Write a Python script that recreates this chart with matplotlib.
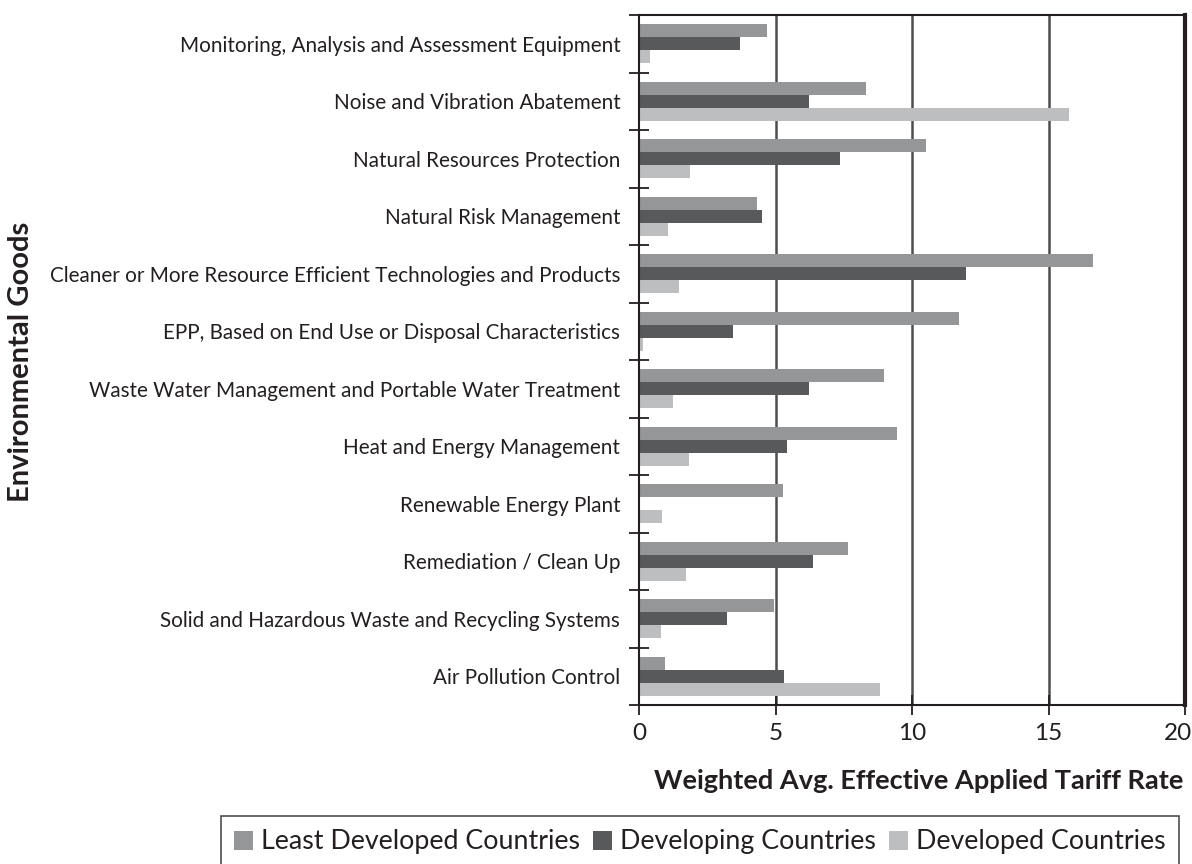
import numpy as np
import matplotlib.pyplot as plt
import matplotlib.transforms as mtransforms
from matplotlib.patches import Patch

categories = [
    "Monitoring, Analysis and Assessment Equipment",
    "Noise and Vibration Abatement",
    "Natural Resources Protection",
    "Natural Risk Management",
    "Cleaner or More Resource Efficient Technologies and Products",
    "EPP, Based on End Use or Disposal Characteristics",
    "Waste Water Management and Portable Water Treatment",
    "Heat and Energy Management",
    "Renewable Energy Plant",
    "Remediation / Clean Up",
    "Solid and Hazardous Waste and Recycling Systems",
    "Air Pollution Control",
]
least_developed = [4.69, 8.32, 10.52, 4.32, 16.63, 11.73, 8.98, 9.45, 5.28, 7.66, 4.95, 0.96]
developing = [3.70, 6.23, 7.37, 4.50, 11.99, 3.44, 6.23, 5.42, 0.0, 6.38, 3.22, 5.32]
developed = [0.41, 15.76, 1.87, 1.06, 1.47, 0.15, 1.24, 1.83, 0.84, 1.73, 0.81, 8.83]

series_names = ["Least Developed Countries", "Developing Countries", "Developed Countries"]
colors = ["#959698", "#58595b", "#bdbec0"]

plt.rcParams['font.family'] = ['Lato', 'DejaVu Sans']

fig = plt.figure(figsize=(11.92, 8.64), dpi=100)
ax = fig.add_axes([639 / 1192, 1 - 705 / 864, (1185 - 639) / 1192, (705 - 15) / 864])

n = len(categories)
y = np.arange(n)  # top category at 0
h = 0.225
for k, vals in enumerate([least_developed, developing, developed]):
    ax.barh(y + (k - 1) * h, vals, height=h, color=colors[k], zorder=2)

ax.set_xlim(0, 20)
ax.set_ylim(n - 0.5, -0.5)
ax.set_xticks([0, 5, 10, 15, 20])
ax.set_yticks(y)
ax.set_yticklabels(categories, fontsize=14.9, color="#231f20")
ax.set_yticks(np.arange(n + 1) - 0.5, minor=True)
ax.tick_params(axis='y', which='major', length=0, pad=13.5)
ax.tick_params(axis='y', which='minor', length=14, direction='inout', width=1.3, color="#231f20")
ax.tick_params(axis='x', length=14, direction='inout', width=1.3, color="#231f20",
               labelsize=17.5, labelcolor="#231f20", pad=6)

# last tick label sits a bit left so it is not cut at the figure edge
last = ax.get_xticklabels()[-1]
last.set_transform(last.get_transform() + mtransforms.ScaledTranslation(-7 / 100, 0, fig.dpi_scale_trans))

for v in [5, 10, 15]:
    ax.axvline(v, color="#4d4d4f", lw=1.8, zorder=1)

for side in ['top', 'right', 'bottom', 'left']:
    ax.spines[side].set_color("#231f20")
    ax.spines[side].set_linewidth(1.5)
ax.spines['right'].set_linewidth(3)

fig.text(21 / 1192, 1 - 362 / 864, "Environmental Goods", rotation=90,
         ha='center', va='center', fontsize=21, fontweight='bold', color="#231f20")
fig.text(1183 / 1192, 1 - 781 / 864, "Weighted Avg. Effective Applied Tariff Rate",
         ha='right', va='center', fontsize=19.5, fontweight='bold', color="#231f20")

handles = [Patch(facecolor=c, edgecolor='none') for c in colors]
leg = fig.legend(handles, series_names, loc='center', ncol=3,
                 bbox_to_anchor=(700 / 1192, 1 - 842 / 864), frameon=True,
                 fontsize=19.3, handlelength=0.7, handleheight=0.7, handletextpad=0.3,
                 columnspacing=0.5, borderpad=0.5, fancybox=False)
leg.get_frame().set_edgecolor("#231f20")
leg.get_frame().set_linewidth(1.2)
for t in leg.get_texts():
    t.set_color("#231f20")

fig.savefig("out.png", dpi=100)
